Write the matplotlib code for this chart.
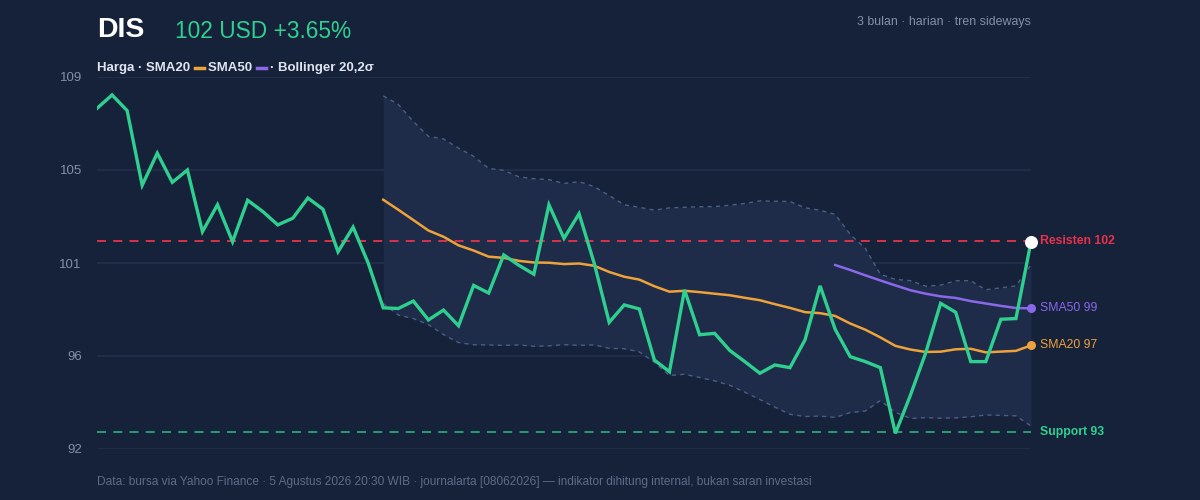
import numpy as np
import pandas as pd
import matplotlib
matplotlib.use("Agg")
import matplotlib.pyplot as plt

plt.rcParams['font.family'] = ['Liberation Sans', 'DejaVu Sans']

# closing prices (63 trading days)
price = [107.5, 108.1, 107.4, 104.07, 105.5, 104.2, 104.75, 102.0, 103.2, 101.55,
         103.4, 102.9, 102.3, 102.6, 103.5, 103.0, 101.1, 102.2, 100.6, 98.6,
         98.57, 98.9, 98.06, 98.5, 97.8, 99.6, 99.26, 100.96, 100.5, 100.1,
         103.2, 101.7, 102.8, 100.6, 97.95, 98.73, 98.55, 96.27, 95.75, 99.4,
         97.4, 97.46, 96.7, 96.2, 95.68, 96.05, 95.93, 97.17, 99.58, 97.64,
         96.42, 96.2, 95.93, 93.0, 94.71, 96.57, 98.8, 98.4, 96.2, 96.2,
         98.09, 98.12, 101.55]
resistance = 101.6
support = 93.06
yticks = [92.3, 96.45, 100.6, 104.75, 108.9]

BG = "#16213a"
GREEN = "#2fd08f"
ORANGE = "#eea23a"
PURPLE = "#8a68ea"
RED = "#e8324b"
MUTED = "#8390a8"

s = pd.Series(price)
x = np.arange(len(s))
sma20 = s.rolling(20).mean()
sma50 = s.rolling(50).mean()
sd20 = s.rolling(20).std(ddof=0)
upper = sma20 + 2 * sd20
lower = sma20 - 2 * sd20

fig = plt.figure(figsize=(12, 5), dpi=100, facecolor=BG)
ax = fig.add_axes([97 / 1200, 51 / 500, 934 / 1200, 372 / 500], facecolor=BG)
ax.set_xlim(0, len(s) - 1)
ax.set_ylim(yticks[0], yticks[-1])
ax.set_yticks(yticks)
ax.set_yticklabels([f"{v:.0f}" for v in yticks])
ax.set_xticks([])
for sp in ax.spines.values():
    sp.set_visible(False)
ax.tick_params(axis="y", length=0, pad=11, labelcolor=MUTED, labelsize=9.5)
ax.grid(axis="y", color="#212d48", lw=1.5)
ax.set_axisbelow(True)

ax.fill_between(x, lower, upper, color="#1e2b49", lw=0, zorder=1)
ax.plot(x, upper, color="#4a5f85", lw=1, ls=(0, (3, 3)), zorder=2)
ax.plot(x, lower, color="#4a5f85", lw=1, ls=(0, (3, 3)), zorder=2)

ax.axhline(resistance, color=RED, lw=1.3, ls=(0, (5, 4)), zorder=2)
ax.axhline(support, color="#27a877", lw=1.3, ls=(0, (5, 4)), zorder=2)

ax.plot(x, sma20, color=ORANGE, lw=1.8, zorder=3)
ax.plot(x, sma50, color=PURPLE, lw=1.8, zorder=3)
ax.plot(x, s, color=GREEN, lw=2.4, zorder=4, solid_joinstyle="miter")

last = len(s) - 1
ax.scatter([last], [sma50.iloc[-1]], s=30, color=PURPLE, zorder=5, clip_on=False)
ax.scatter([last], [sma20.iloc[-1]], s=30, color=ORANGE, zorder=5, clip_on=False)
ax.scatter([last], [s.iloc[-1]], s=70, color="white", zorder=6, clip_on=False)

lx = last + 0.6
ax.text(lx, resistance, f"Resisten {resistance:.0f}", color=RED, fontsize=8.8,
        fontweight="bold", va="center", clip_on=False)
ax.text(lx, sma50.iloc[-1], f"SMA50 {sma50.iloc[-1]:.0f}", color=PURPLE, fontsize=8.8,
        va="center", clip_on=False)
ax.text(lx, sma20.iloc[-1], f"SMA20 {sma20.iloc[-1]:.0f}", color=ORANGE, fontsize=8.8,
        va="center", clip_on=False)
ax.text(lx, support, f"Support {support:.0f}", color=GREEN, fontsize=8.8,
        fontweight="bold", va="center", clip_on=False)

# header
fig.text(97 / 1200, 1 - 30 / 500, "DIS", color="white", fontsize=20.5, fontweight="bold", va="center")
fig.text(175 / 1200, 1 - 32 / 500, "102 USD +3.65%", color=GREEN, fontsize=16.4, va="center")
fig.text(1031 / 1200, 1 - 22 / 500, "3 bulan · harian · tren sideways", color=MUTED,
         fontsize=8.9, ha="right", va="center")

# legend line
ly = 1 - 68 / 500
t = fig.text(97 / 1200, ly, "Harga · SMA20 ", color="#dfe5f0", fontsize=9.5, fontweight="bold", va="center")
fig.canvas.draw()
r = fig.canvas.get_renderer()
bb = t.get_window_extent(r)
x0 = bb.x1 / 1200 + 1 / 1200
fig.add_artist(plt.Line2D([x0, x0 + 9 / 1200], [ly, ly], color=ORANGE, lw=2.5))
t2 = fig.text(x0 + 13 / 1200, ly, "SMA50 ", color="#dfe5f0", fontsize=9.5, fontweight="bold", va="center")
bb = t2.get_window_extent(r)
x1 = bb.x1 / 1200 + 1 / 1200
fig.add_artist(plt.Line2D([x1, x1 + 9 / 1200], [ly, ly], color=PURPLE, lw=2.5))
fig.text(x1 + 13 / 1200, ly, "· Bollinger 20,2σ", color="#dfe5f0", fontsize=9.5, fontweight="bold", va="center")

fig.text(97 / 1200, 1 - 482 / 500,
         "Data: bursa via Yahoo Finance · 5 Agustus 2026 20:30 WIB · journalarta [08062026] — indikator dihitung internal, bukan saran investasi",
         color="#5f6c86", fontsize=8.6, va="center")

fig.savefig("out.png", dpi=100, facecolor=BG)
